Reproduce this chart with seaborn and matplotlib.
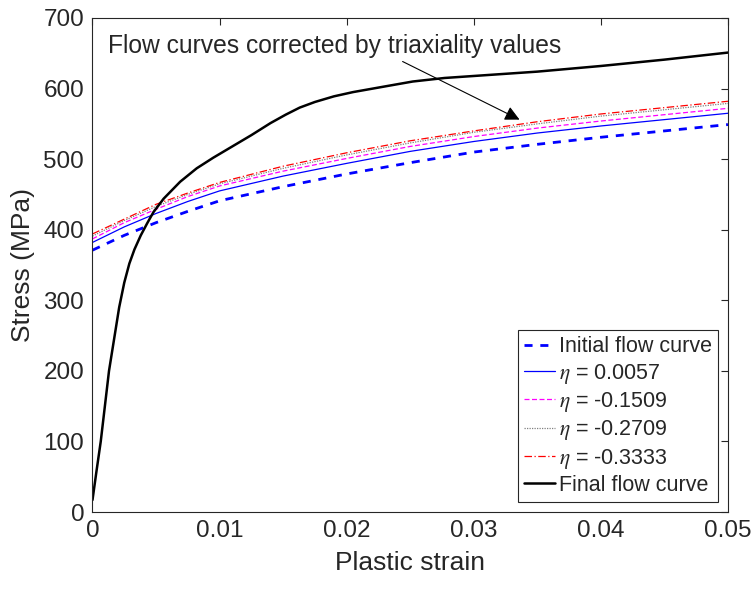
import matplotlib
matplotlib.use("Agg")
import matplotlib.pyplot as plt
import seaborn as sns
import pandas as pd

# Plastic strain grid shared by the initial and triaxiality-corrected curves
strain = [0, 0.0025, 0.005, 0.0075, 0.01, 0.015, 0.02, 0.025, 0.03, 0.035, 0.04, 0.045, 0.05]
initial = [371, 392, 410, 426, 441, 461, 479, 495, 510, 521, 531, 540, 549]
eta_0057 = [382, 404, 423, 440, 455, 476, 494, 511, 525, 537, 547, 556, 565]
eta_m1509 = [387, 410, 429, 447, 462, 483, 501, 518, 532, 544, 554, 563, 572]
eta_m2709 = [391, 413, 433, 450, 465, 487, 506, 523, 538, 550, 561, 570, 579]
eta_m3333 = [394, 415, 436, 452, 467, 490, 509, 526, 540, 553, 564, 573, 582]

# Final (calibrated) flow curve
final_strain = [0, 0.0003, 0.00065, 0.0013, 0.0021, 0.0025, 0.0029, 0.0033, 0.0038,
                0.0043, 0.0048, 0.0056, 0.0069, 0.0082, 0.0095, 0.011, 0.0125,
                0.014, 0.0152, 0.0163, 0.0175, 0.019, 0.0205, 0.023, 0.0252,
                0.0277, 0.035, 0.04, 0.045, 0.05]
final_stress = [17, 56, 100, 200, 290, 325, 352, 372, 392,
                409, 425, 444, 468, 487, 502, 518, 534,
                551, 563, 573, 581, 589, 595, 603, 610,
                615, 624, 632, 641, 651]

x_ticks = [0, 0.01, 0.02, 0.03, 0.04, 0.05]
x_tick_labels = ["0", "0.01", "0.02", "0.03", "0.04", "0.05"]
y_ticks = [0, 100, 200, 300, 400, 500, 600, 700]

sns.set_style("white")
plt.rcParams["font.family"] = ["Liberation Sans", "DejaVu Sans"]
plt.rcParams["mathtext.fontset"] = "stix"

fig = plt.figure(figsize=(7.55, 5.9), dpi=100)
ax = fig.add_axes([0.1225, 0.1322, 0.8417, 0.8373])

df = pd.DataFrame({"strain": strain, "initial": initial, "e1": eta_0057,
                   "e2": eta_m1509, "e3": eta_m2709, "e4": eta_m3333})
df_final = pd.DataFrame({"strain": final_strain, "stress": final_stress})

sns.lineplot(data=df, x="strain", y="initial", ax=ax, color="#0000ff", lw=2.0,
             linestyle=(0, (2.9, 2.8)), label="Initial flow curve")
sns.lineplot(data=df, x="strain", y="e1", ax=ax, color="#0000ff", lw=0.9,
             linestyle="-", label=r"$\eta$ = 0.0057")
sns.lineplot(data=df, x="strain", y="e2", ax=ax, color="#ff00ff", lw=0.9,
             linestyle=(0, (4, 2)), label=r"$\eta$ = -0.1509")
sns.lineplot(data=df, x="strain", y="e3", ax=ax, color="#808080", lw=0.9,
             linestyle=(0, (1, 1)), label=r"$\eta$ = -0.2709")
sns.lineplot(data=df, x="strain", y="e4", ax=ax, color="#ff0000", lw=0.9,
             linestyle=(0, (6, 2, 1, 2)), label=r"$\eta$ = -0.3333")
sns.lineplot(data=df_final, x="strain", y="stress", ax=ax, color="black", lw=1.8,
             linestyle="-", label="Final flow curve")

ax.set_xlim(0, 0.05)
ax.set_ylim(0, 700)
ax.set_xticks(x_ticks)
ax.set_xticklabels(x_tick_labels)
ax.set_yticks(y_ticks)
ax.tick_params(direction="in", length=5, width=0.8, top=True, right=True,
               labelsize=17.5, colors="#262626", pad=6)
for s in ax.spines.values():
    s.set_color("#262626")
    s.set_linewidth(0.8)
ax.set_xlabel("Plastic strain", fontsize=19, color="#262626", labelpad=6)
ax.set_ylabel("Stress (MPa)", fontsize=19, color="#262626", labelpad=6)

ax.annotate("Flow curves corrected by triaxiality values",
            xy=(0.0336, 556), xytext=(0.0012, 660),
            fontsize=17.7, va="center", ha="left",
            arrowprops=dict(arrowstyle="-|>", color="black", lw=0.8,
                            mutation_scale=22,
                            shrinkA=0, shrinkB=0,
                            relpos=(0.636, 0.0)))

leg = ax.legend(loc="lower right", fontsize=15.5, frameon=True, fancybox=False,
                edgecolor="#262626", framealpha=1, borderaxespad=0.45,
                handlelength=1.4, handletextpad=0.2, labelspacing=0.2,
                borderpad=0.3)
leg.get_frame().set_linewidth(0.8)

fig.savefig("out.png", dpi=100)
